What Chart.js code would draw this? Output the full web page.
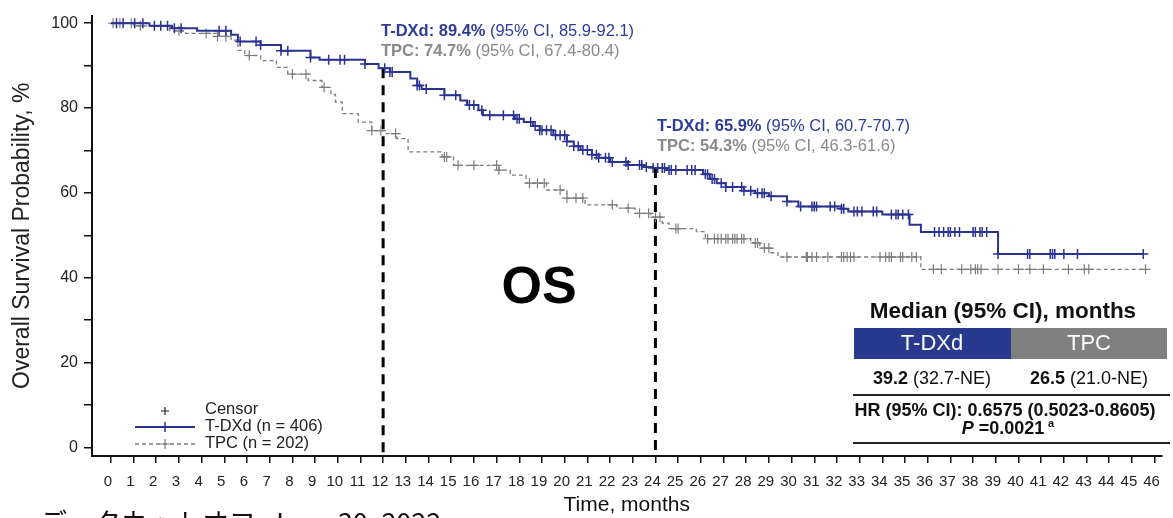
<!DOCTYPE html>
<html lang="ja">
<head>
<meta charset="UTF-8">
<title>OS - Kaplan-Meier</title>
<style>
  html, body { margin: 0; padding: 0; background: #fff; }
  #wrap { width: 1173px; height: 518px; }
</style>
</head>
<body>
<div id="wrap"><canvas id="km" width="1173" height="518"></canvas></div>
<script src="https://cdn.jsdelivr.net/npm/chart.js"></script>
<script>
// ticks
const xTicks = Array.from({ length: 47 }, (_, i) => i);
const yTicks = [0, 10, 20, 30, 40, 50, 60, 70, 80, 90, 100];
const yLabels = [0, 20, 40, 60, 80, 100];

// T-DXd KM steps (months, %)
const tdxdTime = [0, 1.7, 2.7, 3.8, 5.3, 5.6, 6.6, 7.5, 8.8, 9.2, 11.2, 11.8, 12.3, 13.2, 13.5, 13.7, 14.7, 15.4, 15.7, 16.2, 16.4,
  17.8, 18.2, 18.6, 18.9, 19.5, 20.1, 20.4, 20.7, 21.2, 21.5, 22.0, 22.8, 23.5, 23.9, 24.5, 26.1, 26.4, 26.7, 27.1, 27.9,
  28.4, 29.0, 29.8, 30.3, 32.2, 32.5, 34.0, 35.2, 35.7, 39.1, 45.5];
const tdxdSurv = [100, 99.4, 98.8, 98.2, 97.3, 95.7, 94.9, 93.5, 91.9, 91.4, 90.4, 89.4, 88.5, 87.0, 85.3, 84.5, 83.0, 81.8, 80.7, 79.5, 78.3,
  77.5, 76.7, 75.8, 74.8, 73.6, 72.1, 71.0, 70.1, 69.0, 68.3, 67.3, 66.6, 66.1, 65.9, 65.4, 64.4, 63.3, 62.3, 61.4, 60.5,
  59.9, 59.2, 58.0, 56.8, 56.3, 55.6, 54.9, 52.5, 50.8, 45.6, 45.6];
const tdxdCensor = [0.25, 0.54, 1.05, 1.41, 1.92, 2.2, 2.5, 2.8, 3.1, 4.77, 5.07, 5.7, 6.4, 6.6, 7.5, 7.8, 8.8, 9.6, 10.1, 10.3, 11.2,
  12.07, 12.3, 12.4, 13.5, 13.6, 13.9, 14.7, 15.2, 15.8, 16.0, 16.35, 16.7, 17.3, 17.75, 17.9, 18.0, 18.5, 18.7, 18.9, 19.0,
  19.2, 19.4, 19.6, 19.8, 20.0, 20.1, 20.4, 20.6, 20.8, 21.0, 21.2, 21.4, 21.5, 21.8, 21.95, 22.1, 22.7, 22.8, 23.3, 23.4,
  23.6, 23.9, 24.1, 24.3, 24.4, 24.6, 24.7, 24.9, 25.4, 25.6, 25.75, 26.2, 26.3, 26.5, 26.6, 26.9, 27.1, 27.4, 27.8, 27.9,
  28.2, 28.5, 28.7, 28.8, 29.1, 29.8, 30.4, 30.9, 31.0, 31.1, 31.7, 31.9, 32.2, 32.3, 32.75, 32.9, 33.1, 33.6, 33.75, 34.4,
  34.6, 34.7, 34.9, 35.15, 36.3, 36.5, 36.7, 36.9, 37.0, 37.2, 37.4, 38.0, 38.1, 38.3, 38.4, 38.6, 39.1, 40.4, 40.5, 41.4,
  41.5, 41.6, 42.0, 42.6, 45.5];

// TPC KM steps
const tpcTime = [0, 1.0, 2.6, 3.3, 4.7, 5.3, 5.6, 5.9, 6.6, 7.3, 7.8, 8.7, 9.3, 9.7, 9.9, 10.2, 10.9, 11.5, 12.1, 12.6, 13.1,
  14.6, 15.1, 17.1, 17.6, 18.3, 19.2, 20.1, 20.9, 22.3, 23.1, 23.8, 24.3, 24.6, 25.8, 26.2, 28.2, 28.6, 29.1, 29.4, 35.7, 45.6];
const tpcSurv = [100, 99.4, 98.2, 97.6, 96.9, 96.0, 93.6, 92.4, 91.2, 89.6, 88.0, 86.5, 84.9, 83.2, 81.4, 78.7, 76.7, 74.7, 74.0, 72.8, 69.7,
  68.5, 66.5, 65.4, 64.2, 62.3, 60.7, 58.8, 57.2, 56.4, 55.2, 54.3, 52.9, 51.6, 50.9, 49.2, 48.2, 47.0, 45.9, 44.9, 42.0, 42.0];
const tpcCensor = [0.1, 0.4, 0.9, 1.3, 3.0, 4.2, 4.7, 5.07, 6.1, 8.0, 8.6, 9.4, 11.5, 11.9, 12.55, 14.7, 14.8, 15.3, 16.0, 17.0,
  17.1, 18.45, 18.8, 19.1, 19.8, 20.1, 20.5, 20.8, 22.1, 22.8, 23.3, 23.7, 24.0, 24.2, 24.9, 25.0, 26.3, 26.6, 26.75, 26.9,
  27.1, 27.2, 27.4, 27.5, 27.6, 27.8, 27.9, 28.4, 28.5, 28.8, 29.0, 29.8, 30.65, 30.7, 30.9, 31.1, 31.6, 32.2, 32.3, 32.45,
  32.6, 32.75, 33.9, 34.15, 34.3, 34.4, 34.8, 34.9, 35.3, 35.5, 36.25, 36.6, 37.5, 37.9, 38.1, 38.2, 38.35, 39.1, 40.0, 40.5,
  41.1, 42.2, 42.9, 43.1, 45.6];

// landmark lines
const landmarkTime = [12, 24];
const landmarkTdxd = [89.4, 65.9];

const NAVY = '#2b3391';
const GREY = '#7c7c7c';
const FONT = '"Liberation Sans", Arial, sans-serif';

function kmPoints(times, surv) {
  return times.map((t, i) => ({ x: t, y: surv[i] }));
}
function survAt(times, surv, t) {
  let v = surv[0];
  for (let i = 0; i < times.length; i++) if (times[i] <= t) v = surv[i];
  return v;
}
function censorPoints(censor, times, surv) {
  return censor.map(t => ({ x: t, y: survAt(times, surv, t) }));
}

function drawRuns(ctx, parts, x, y, align) {
  let total = 0;
  parts.forEach(p => { ctx.font = p.font; p.w = ctx.measureText(p.t).width; total += p.w; });
  let cx = align === 'center' ? x - total / 2 : x;
  ctx.textAlign = 'left';
  ctx.textBaseline = 'middle';
  parts.forEach(p => { ctx.font = p.font; ctx.fillStyle = p.color; ctx.fillText(p.t, cx, y); cx += p.w; });
}
function cross(ctx, x, y, r, color, lw) {
  ctx.strokeStyle = color; ctx.lineWidth = lw;
  ctx.beginPath();
  ctx.moveTo(x - r, y); ctx.lineTo(x + r, y);
  ctx.moveTo(x, y - r); ctx.lineTo(x, y + r);
  ctx.stroke();
}

const extras = {
  id: 'extras',
  afterDraw(chart) {
    const ctx = chart.ctx;
    ctx.save();

    // landmark annotations
    const b16 = 'bold 16.5px ' + FONT, r16 = '16.5px ' + FONT;
    drawRuns(ctx, [{ t: 'T-DXd: 89.4%', font: b16, color: '#2d3c98' }, { t: ' (95% CI, 85.9-92.1)', font: r16, color: '#2d3c98' }], 381, 31);
    drawRuns(ctx, [{ t: 'TPC: 74.7%', font: b16, color: '#8a8a8a' }, { t: ' (95% CI, 67.4-80.4)', font: r16, color: '#8a8a8a' }], 381, 51);
    drawRuns(ctx, [{ t: 'T-DXd: 65.9%', font: b16, color: '#2d3c98' }, { t: ' (95% CI, 60.7-70.7)', font: r16, color: '#2d3c98' }], 657, 126);
    drawRuns(ctx, [{ t: 'TPC: 54.3%', font: b16, color: '#8a8a8a' }, { t: ' (95% CI, 46.3-61.6)', font: r16, color: '#8a8a8a' }], 657, 146);

    // OS label
    ctx.font = 'bold 52px ' + FONT;
    ctx.fillStyle = '#000';
    ctx.textAlign = 'center';
    ctx.textBaseline = 'middle';
    ctx.fillText('OS', 539, 289);

    // legend
    cross(ctx, 165, 411, 4, '#222', 1.2);
    ctx.strokeStyle = NAVY; ctx.lineWidth = 2;
    ctx.beginPath(); ctx.moveTo(135, 427); ctx.lineTo(195, 427); ctx.stroke();
    cross(ctx, 165, 427, 5, NAVY, 1.5);
    ctx.strokeStyle = GREY; ctx.lineWidth = 1.3; ctx.setLineDash([4, 3]);
    ctx.beginPath(); ctx.moveTo(135, 444); ctx.lineTo(195, 444); ctx.stroke();
    ctx.setLineDash([]);
    cross(ctx, 165, 444, 5, GREY, 1.2);
    ctx.font = '16.5px ' + FONT;
    ctx.fillStyle = '#222';
    ctx.textAlign = 'left';
    ctx.fillText('Censor', 205, 409);
    ctx.fillText('T-DXd (n = 406)', 205, 426);
    ctx.fillText('TPC (n = 202)', 205, 443);

    // median table
    ctx.fillStyle = '#111';
    ctx.textAlign = 'center';
    ctx.font = 'bold 22.5px ' + FONT;
    ctx.fillText('Median (95% CI), months', 1003, 312);
    ctx.fillStyle = '#283a8e';
    ctx.fillRect(854, 328, 157, 31);
    ctx.fillStyle = '#808080';
    ctx.fillRect(1011, 328, 156, 31);
    ctx.fillStyle = '#fff';
    ctx.font = '22px ' + FONT;
    ctx.fillText('T-DXd', 932, 344);
    ctx.fillText('TPC', 1089, 344);
    const b18 = 'bold 18px ' + FONT, r18 = '18px ' + FONT;
    drawRuns(ctx, [{ t: '39.2', font: b18, color: '#111' }, { t: ' (32.7-NE)', font: r18, color: '#111' }], 932, 379, 'center');
    drawRuns(ctx, [{ t: '26.5', font: b18, color: '#111' }, { t: ' (21.0-NE)', font: r18, color: '#111' }], 1089, 379, 'center');
    ctx.strokeStyle = '#222'; ctx.lineWidth = 2;
    ctx.beginPath(); ctx.moveTo(853, 395); ctx.lineTo(1170, 395); ctx.stroke();
    drawRuns(ctx, [{ t: 'HR (95% CI): 0.6575 (0.5023-0.8605)', font: b18, color: '#111' }], 1005, 411, 'center');
    drawRuns(ctx, [{ t: 'P', font: 'italic bold 18px ' + FONT, color: '#111' }, { t: ' =0.0021', font: b18, color: '#111' }], 1003, 429, 'center');
    ctx.font = 'bold 11px ' + FONT;
    ctx.textAlign = 'left';
    ctx.fillText('a', 1048, 424);
    ctx.beginPath(); ctx.moveTo(853, 443); ctx.lineTo(1170, 443); ctx.stroke();

    // footnote, cut by the bottom edge
    ctx.font = '27px "Noto Sans CJK JP", sans-serif';
    ctx.fillStyle = '#111';
    ctx.textAlign = 'left';
    ctx.textBaseline = 'alphabetic';
    ctx.fillText('データカットオフ: June 30, 2022', 40, 533);

    ctx.restore();
  }
};

new Chart(document.getElementById('km'), {
  type: 'line',
  data: {
    datasets: [
      {
        label: 'T-DXd (n = 406)',
        data: kmPoints(tdxdTime, tdxdSurv),
        borderColor: NAVY, borderWidth: 2, stepped: 'before',
        pointRadius: 0, fill: false
      },
      {
        label: 'T-DXd censor',
        data: censorPoints(tdxdCensor, tdxdTime, tdxdSurv),
        showLine: false, pointStyle: 'cross', pointRadius: 5,
        borderColor: NAVY, pointBorderWidth: 1.5
      },
      {
        label: 'TPC (n = 202)',
        data: kmPoints(tpcTime, tpcSurv),
        borderColor: GREY, borderWidth: 1.3, borderDash: [4, 3], stepped: 'before',
        pointRadius: 0, fill: false
      },
      {
        label: 'TPC censor',
        data: censorPoints(tpcCensor, tpcTime, tpcSurv),
        showLine: false, pointStyle: 'cross', pointRadius: 5,
        borderColor: GREY, pointBorderWidth: 1.2
      },
      {
        label: '12 months',
        data: [{ x: landmarkTime[0], y: landmarkTdxd[0] }, { x: landmarkTime[0], y: -2 }],
        borderColor: '#000', borderWidth: 3, borderDash: [10, 7], pointRadius: 0
      },
      {
        label: '24 months',
        data: [{ x: landmarkTime[1], y: landmarkTdxd[1] }, { x: landmarkTime[1], y: -2 }],
        borderColor: '#000', borderWidth: 3, borderDash: [10, 7], pointRadius: 0
      }
    ]
  },
  options: {
    responsive: false,
    animation: false,
    devicePixelRatio: 1,
    layout: { padding: { top: 13, right: 3, left: 0, bottom: 0 } },
    plugins: { legend: { display: false }, tooltip: { enabled: false } },
    scales: {
      x: {
        type: 'linear', min: -0.83, max: 46.3,
        afterBuildTicks: s => { s.ticks = xTicks.map(v => ({ value: v })); },
        afterFit: s => { s.height = 62; },
        ticks: { font: { family: FONT, size: 15 }, color: '#222', autoSkip: false, maxRotation: 0, padding: 10, labelOffset: -3 },
        grid: { drawOnChartArea: false, drawTicks: true, tickLength: 7, color: '#111', lineWidth: 1.5 },
        border: { display: true, color: '#111', width: 2 },
        title: { display: true, text: 'Time, months', color: '#111', font: { family: FONT, size: 21 }, padding: { top: 0, bottom: 0 } }
      },
      y: {
        type: 'linear', min: -2, max: 101.8,
        afterBuildTicks: s => { s.ticks = yTicks.map(v => ({ value: v })); },
        afterFit: s => { s.width = 92; },
        ticks: { font: { family: FONT, size: 16 }, color: '#222', padding: 6, callback: v => (yLabels.includes(v) ? String(v) : '') },
        grid: { drawOnChartArea: false, drawTicks: true, tickLength: 8, color: '#111', lineWidth: 1.5 },
        border: { display: true, color: '#111', width: 2 },
        title: { display: true, text: 'Overall Survival Probability, %', color: '#222', font: { family: FONT, size: 23 }, padding: { top: 9, bottom: 0 } }
      }
    }
  },
  plugins: [extras]
});
</script>
</body>
</html>
